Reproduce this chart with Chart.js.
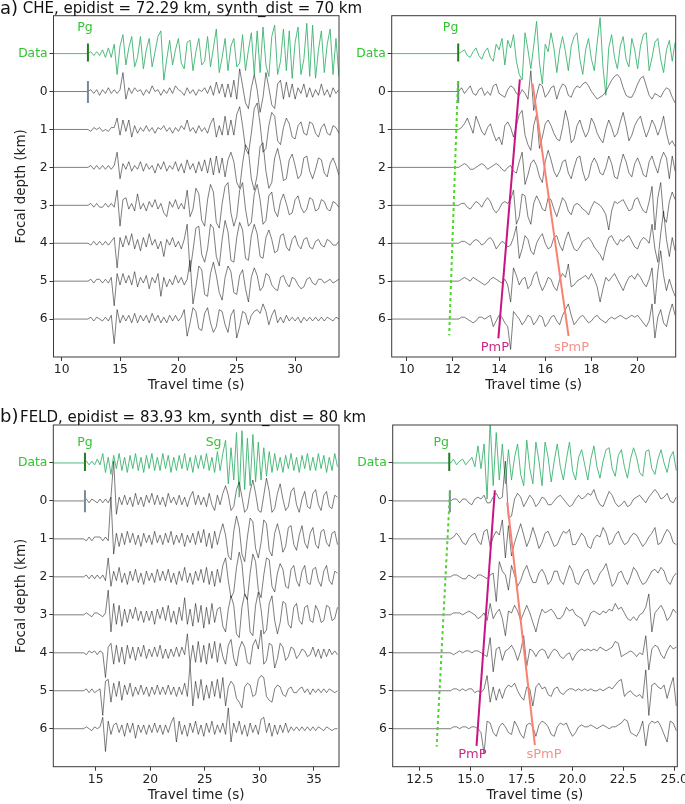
<!DOCTYPE html>
<html>
<head>
<meta charset="utf-8">
<script src="https://cdn.jsdelivr.net/npm/chart.js@4.4.1/dist/chart.umd.min.js"></script>
<style>
  body { margin: 0; background: #fff; width: 685px; height: 804px; position: relative; overflow: hidden; font-family: 'DejaVu Sans', sans-serif; }
  canvas { position: absolute; }
  .ttl { position: absolute; white-space: nowrap; color: #111; }
</style>
</head>
<body>
<canvas id="aL" width="345" height="400" style="left:0;top:0"></canvas>
<canvas id="aR" width="340" height="400" style="left:345px;top:0"></canvas>
<canvas id="bL" width="345" height="404" style="left:0;top:400px"></canvas>
<canvas id="bR" width="340" height="404" style="left:345px;top:400px"></canvas>
<div class="ttl" style="left:0;top:-2.5px;font-size:18px;line-height:20px">a)</div>
<div class="ttl" style="left:22.7px;top:-0.9px;font-size:15px;line-height:18px">CHE, epidist = 72.29 km, synth_dist = 70 km</div>
<div class="ttl" style="left:0;top:405.5px;font-size:18px;line-height:20px">b)</div>
<div class="ttl" style="left:20px;top:407.5px;font-size:15px;line-height:18px">FELD, epidist = 83.93 km, synth_dist = 80 km</div>
<script>
// trace rows: Data on top, then synthetic focal depths 0..6 km
const depthLabels = ['Data', '0', '1', '2', '3', '4', '5', '6'];
const tracePos = [-1, 0, 1, 2, 3, 4, 5, 6];
const ampScale = 0.05; // one amplitude count = 1/20 of the row spacing

// ---- panel a) left: CHE, full window ----
const aL_range = [9.3, 33.76];
const aL_ticks = [10, 15, 20, 25, 30];
const aL_start = 12.25, aL_step = 0.25;
const aL_pick = 12.25;
const aL_data = [0,1,-1,1,-1,2,-2,3,-2,5, -11,4,10,-6,3,9,-7,-2,9,-8, 2,8,-7,1,9,12,-14,-3,7,-6, 2,8,-5,-8,6,7,-9,1,8,-6, -4,9,-7,3,13,-10,-2,8,-9,4, 8,-7,-5,10,-9,2,11,-11,12,-10, 14,-6,-12,9,15,-11,-4,13,-9,12, -13,6,14,-11,-3,16,-12,15,-13,2, 12,-10,5,13,-11,8,-12];
const aL_d0 = [0,1,-1,1,-2,1,-1,2,-1,1, -1,1,10,-4,2,-1,2,0,1,-2, 1,-1,3,0,1,-2,1,-1,2,-1, 3,1,0,-2,2,-1,1,-2,1,0, 2,-1,3,-2,5,-1,4,-3,4,-3, 6,-4,12,3,-6,-9,2,9,1,-11, -3,10,2,-7,-9,4,6,-4,5,-3, 4,-4,2,-1,4,-3,2,-3,1,-2, 4,-2,1,-3,2,-1,1];
const aL_d1 = [0,-1,1,0,1,-1,0,-1,1,1, 6,-3,5,-1,5,-4,2,-2,1,-1, 2,-1,1,-2,1,0,2,-1,1,-2, 1,-1,2,0,5,-1,1,-2,2,-1, 1,-2,3,6,-4,2,-3,7,-3,5, -3,8,12,2,-10,-13,-2,11,14,3, -12,-10,2,9,7,-6,-8,1,6,3, -4,-5,2,4,-2,-3,4,3,-2,-4, 1,3,-2,-3,2,1,-2];
const aL_d2 = [0,1,-1,1,-1,1,-1,1,-1,1, 8,-6,2,-1,3,-2,1,-1,3,-2, 2,-1,1,-3,2,-1,3,-2,1,-1, 3,-2,2,-3,4,-1,2,-3,3,-2, 4,-3,5,-4,6,-3,5,-5,4,8, 3,-8,-11,2,12,9,-6,-12,-4,11, 13,-2,-11,-8,5,10,3,-7,-6,4, 7,1,-6,-4,5,6,-2,-6,-1,5, 4,-3,-5,2,5,1,-4];
const aL_d3 = [0,1,-1,1,-1,-1,1,-1,1,-1, 8,-11,3,4,-2,1,-3,6,-2,1, -3,2,-1,3,-2,1,-4,-6,2,-1, 3,-2,1,-2,8,-6,-2,9,6,-8, -11,3,11,7,-9,-12,1,10,12,-4, -11,-6,8,12,-2,-11,-9,6,11,3, -10,-8,5,7,-3,-6,2,6,1,-5, -4,3,5,-1,-4,-2,4,3,-3,-2, 3,2,-2,-3,2,1,-1];
const aL_d4 = [0,-1,1,-1,1,-1,1,-1,1,3, -13,3,-2,4,-1,5,-3,2,-4,3, -2,5,-1,2,-3,1,-7,2,-1,3, -2,1,-3,2,10,-15,-4,8,9,-6, -10,-3,10,8,-7,-12,2,12,6,-9, -10,3,11,7,-8,-9,4,10,5,-7, -8,3,7,2,-5,-4,4,5,-2,-4, 2,4,-1,-3,2,3,-2,-3,1,2, -1,-2,2,1,-1,-1,1];
const aL_d5 = [0,1,-1,1,1,-1,1,-1,2,-13, 4,-2,4,-1,3,-2,5,-3,2,-1, 3,-4,2,-1,4,-8,2,-3,1,-2, 3,-1,2,-2,1,11,-12,-3,8,6, -7,-8,4,10,3,-6,-10,2,8,5, -6,-7,3,6,-4,-11,2,7,3,-5, -3,4,3,-2,-4,-5,2,3,-1,-3, 2,1,-2,-4,-3,1,2,-1,-2,1, 1,-1,0,1,-1,0,1];
const aL_d6 = [0,1,-1,1,0,-1,1,-1,2,-13, 5,-2,2,-1,2,-2,3,-2,2,-1, 2,-2,3,-1,2,-2,1,-2,2,-1, 2,-1,1,5,-9,-2,6,4,-5,-6, 3,6,-2,-7,-4,5,4,-3,-7,2, 5,-10,-4,4,3,-3,2,4,5,3, 8,4,-3,2,5,-2,1,-2,2,-1, 1,-1,1,-2,1,-1,1,-1,1,-1, 1,-1,1,0,-1,1,0];

// ---- panel a) right: CHE, zoom on the P window ----
const aR_range = [9.35, 21.65];
const aR_ticks = [10, 12, 14, 16, 18, 20];
const aR_start = 12.25, aR_step = 0.125;
const aR_pick = 12.23;
const aR_data = [0,1,2,-1,-2,1,3,-1,-3,1, 3,-2,-4,5,2,8,-6,7,3,10, -4,-11,-14,11,2,-8,4,17,-5,-16, 5,1,11,3,-10,2,9,1,-9,4, 9,11,-3,-11,2,8,-3,-9,6,19, -7,-22,3,10,-2,-8,4,9,-3,-7, 8,2,-8,4,10,11,-9,-2,6,8, -3,-10,2,7,-4,6];
const aR_d0 = [0,2,-1,1,3,-1,-2,1,2,-2, 0,-2,3,4,-1,-2,-3,1,3,2, -1,-2,1,-1,-4,11,-10,-2,4,3, -3,-1,2,3,-4,1,4,3,-2,-3, 1,3,2,4,5,3,0,-2,-4,-3, -2,0,3,6,8,9,7,2,-2,-3, -3,0,4,7,8,3,-2,-4,-1,-2, -3,0,2,1,-3,-6];
const aR_d1 = [0,1,3,6,2,-2,7,3,-1,-3, 1,3,-2,-6,-4,-8,2,4,1,-4, 2,8,10,-3,-8,-11,2,8,-10,-4, 3,5,2,-2,-5,-6,1,10,4,-7, -5,2,5,0,-4,-1,6,3,-2,-5, -7,0,5,1,-4,-2,4,9,2,-6, -3,2,5,7,1,-4,0,5,2,-3, 1,7,-2,-8,-6,-9];
const aR_d2 = [0,1,2,1,-1,-1,0,1,2,1, -1,0,1,2,1,-1,-2,0,1,-2, -3,3,8,-9,-4,2,4,1,-5,-8, 3,9,4,-2,-5,-2,3,4,-3,-6, 0,5,6,-2,-7,-5,2,5,2,-3, -4,0,6,2,-5,-6,1,7,3,-3, -5,2,5,1,-4,-5,3,6,1,-3, 4,8,5,-6,6,-2];
const aR_d3 = [0,1,1,-1,-2,0,2,1,-1,2, 4,2,-2,-4,-2,1,2,1,3,8, -10,-6,6,5,-6,-10,1,5,2,-2, -3,4,3,-2,-6,-1,4,2,-3,-5, 0,1,0,-2,-3,-5,-1,2,1,0, -2,-5,-13,-3,2,1,2,3,0,-3, -2,3,4,0,-3,-4,2,10,-13,4, 12,-6,-9,2,7,3];
const aR_d4 = [0,1,1,0,-1,1,2,1,-1,0, 2,3,1,-3,-1,1,0,-2,-1,3, 9,-8,-3,4,2,-4,-6,0,3,5, 0,-3,-2,3,4,-1,-4,2,6,1, -3,-4,-2,1,2,3,1,-2,-4,-6, -9,-2,3,4,1,-1,2,1,3,4, 1,-2,-3,1,3,2,0,10,-3,-10, 5,17,2,-7,3,-4];
const aR_d5 = [0,1,2,1,0,2,1,0,-1,-2, -1,1,2,1,0,-1,1,-2,-11,7, 3,-2,1,2,-4,-2,3,5,-1,-5, -2,2,1,-3,-5,1,4,2,9,-3, -2,0,1,2,3,1,4,1,-3,-11, -4,2,0,2,4,1,-2,-5,-1,2, 3,1,4,2,-1,-3,1,7,-12,5, 16,3,-5,1,-4,-8];
const aR_d6 = [0,1,1,0,-1,-2,-1,1,1,0, 1,2,-4,-1,2,1,-2,-4,-16,4, 2,0,-3,-1,2,1,-3,-1,2,1, -4,-2,1,2,-1,-3,2,5,8,2, -3,-1,1,2,0,-2,-1,1,2,0, -1,-2,0,1,0,1,2,1,0,1, 2,1,2,0,-2,-4,-1,8,-10,1, 5,-2,-4,3,8,2];
const aR_pg = [[12.22, -0.25], [11.84, 6.43]];
const aR_pmp = [[14.9, -0.32], [13.97, 6.51]];
const aR_spmp = [[15.45, -0.21], [17.01, 6.45]];

// ---- panel b) left: FELD, full window ----
const bL_range = [11.12, 37.29];
const bL_ticks = [15, 20, 25, 30, 35];
const bL_start = 13.9, bL_step = 0.25;
const bL_pick = 14.02;
const bL_data = [0,1,-1,1,-1,2,-1,5,-5,3, -6,4,-3,5,-4,3,-5,4,-3,5, -4,3,-5,4,-3,5,-4,3,-4,5, -3,4,-5,3,-4,4,-3,5,-4,3, -5,4,-3,4,-3,5,-4,3,-5,6, -4,5,12,-11,8,-9,16,-18,17,-14, 13,-12,15,-10,11,-9,8,-7,6,-5, 5,-4,3,-5,4,-3,5,-4,3,-5, 4,-3,5,-4,3,-4,5,-3,4,-5, 3,-4,5,-2];
const bL_d0 = [0,1,-1,1,0,-1,1,-1,1,-1, 2,21,-7,2,-2,3,-2,2,-3,4, -2,2,-3,3,-1,4,-2,3,-2,2, -3,4,-1,2,-2,3,-2,2,-3,2, 5,-2,3,-2,2,-3,4,-2,-5,3, -2,4,8,3,-5,-3,6,10,2,-6, -4,5,11,4,-5,-6,3,12,5,-6, -4,4,9,1,-5,-3,5,7,-2,-6, 1,5,-3,-4,4,6,-2,-5,3,5, -3,-4,3,2];
const bL_d1 = [0,-1,1,-1,1,1,1,-1,1,-1, 22,-8,3,-4,3,-3,4,-2,3,-3, 2,-4,3,-2,2,-3,4,-2,2,-3, 3,-2,4,-3,2,-2,3,-4,2,-2, 3,-3,4,-2,5,-4,3,-5,4,-3, 3,8,2,-9,-11,4,12,6,-8,-12, 1,11,9,-5,-10,-2,10,8,-6,-9, 3,8,2,-7,-4,6,7,-3,-6,2, 7,-2,-5,3,6,-3,-5,4,5,-2, -4,3,4,-3];
const bL_d2 = [0,1,-1,1,-1,1,-1,1,-2,10, -5,3,-2,5,-3,2,-4,3,-2,4, -3,2,-4,3,-2,2,-3,4,-2,3, -2,4,-3,2,-4,3,-2,5,-3,2, -4,3,-2,4,-3,5,-4,3,-5,4, -3,6,10,-2,-11,-8,5,13,7,-9, -12,2,12,8,-7,-11,1,10,9,-5, -8,2,7,4,-5,-6,4,6,-2,-5, 3,6,-3,-4,4,5,-2,-5,3,6, -2,-4,3,2];
const bL_d3 = [0,1,0,-1,1,1,0,-1,1,13, -9,6,-5,5,-6,3,-4,3,-2,4, -3,2,-4,2,-3,2,-5,3,-2,4, -3,5,-4,2,-5,4,-3,9,-5,3, -6,6,-4,5,-7,4,-5,6,-4,3, 4,-6,-9,3,10,5,-10,-12,4,11, 8,-9,-11,5,12,3,-10,-8,6,10, -3,-10,-4,7,6,-5,-7,4,6,-3, -5,4,5,-3,-4,5,2,-4,-3,5, 4,-3,-2,4];
const bL_d4 = [0,-1,1,0,1,-1,1,0,-13,3, 5,-6,4,-5,3,-6,4,-3,3,-4, 3,-2,4,-3,2,-2,3,-2,4,-3, 2,-3,2,-2,3,-2,3,-1,10,-6, 4,-5,6,-5,4,-6,5,-3,6,-5, 5,-2,-6,4,7,-3,-7,2,6,3, -5,-6,4,7,2,12,-6,-4,5,4, -8,-3,5,3,-4,-2,3,2,-3,-1, 2,1,-2,-1,3,-2,2,-3,2,-2, 2,-1,1,-1];
const bL_d5 = [0,1,-1,1,-1,0,1,-13,5,6, -6,4,-3,5,-5,3,-2,4,-3,2, -2,3,-2,2,-3,2,-2,3,-2,2, -2,3,-2,2,-3,2,-2,4,-3,14, -8,5,-4,6,-5,3,-4,5,-3,6, -4,7,-8,2,5,3,-4,-6,-9,2, 4,3,-3,-2,6,8,7,-3,-5,-6, 1,3,2,-2,-3,1,2,-1,-1,1, 2,-1,1,-2,1,-1,1,-1,1,-1, 1,0,-1,0];
const bL_d6 = [0,1,0,-1,1,0,1,6,-12,4, -3,2,3,-2,2,-4,3,-2,3,-5, 2,-2,2,-3,2,-2,3,-2,2,-3, 2,-2,3,6,-7,4,-3,2,-4,3, -2,4,-3,2,-4,3,-2,4,-3,2, -2,3,-3,11,-7,3,-2,4,-3,2, -4,3,-2,2,-3,5,6,-2,3,-4, 2,-3,2,-2,3,-2,1,-1,1,-1, 1,-1,1,-1,1,-1,1,0,-1,1, 0,-1,0,0];

// ---- panel b) right: FELD, zoom on the P window ----
const bR_range = [11.16, 25.15];
const bR_ticks = [12.5, 15, 17.5, 20, 22.5, 25];
const bR_start = 14.0, bR_step = 0.15;
const bR_pick = 13.94, bR_pick0 = 13.97;
const bR_data = [0,2,-1,1,2,-1,1,3,-2,9, -3,10,-19,22,-12,16,-9,10,-11,7, -9,3,10,-6,-12,12,-3,-11,11,1, -12,11,3,-10,1,10,-2,-9,2,11, -4,-9,3,7,-1,-9,2,9,-2,-8, 1,7,8,-3,-7,4,7,-2,-8,2, 8,3,-5,-7,6,7,-3,-6,2,7, 0,-5,3,6,-4];
const bR_d0 = [0,1,1,-1,1,1,-1,-2,1,2, 1,3,-1,-1,2,4,1,2,21,-9, -8,1,4,2,-3,0,3,1,-3,-1, 2,1,-2,-2,0,2,3,1,-1,-3, -2,1,3,1,2,4,3,6,1,-2, -3,1,5,3,-1,-3,-2,0,-3,-2, 1,2,3,1,-1,2,4,6,4,1, 2,4,0,-1,2];
const bR_d1 = [0,1,3,1,-2,-3,0,2,3,-1, -3,4,5,-4,1,4,2,10,-10,7, -9,-2,3,8,2,-4,0,6,1,-5, -2,3,4,0,-4,-3,1,4,3,5, -3,-3,0,3,1,-4,-5,0,2,1, 6,3,-3,-2,2,4,0,-3,-2,1, 3,2,-1,-4,-2,1,3,6,-3,-2, 2,5,3,-2,-3];
const bR_d2 = [0,1,1,0,-1,-1,1,0,-1,1, 1,0,-1,1,2,-13,8,3,1,-7, 6,1,-5,-2,3,6,1,-3,-3,2, 4,1,-4,-2,3,3,-2,-4,1,6, 3,-3,-4,0,3,4,-1,-4,-2,2, 4,7,1,-5,-3,2,3,-1,-4,0, 5,3,-1,-4,-3,0,3,4,2,5, 3,-2,-4,0,2];
const bR_d3 = [0,1,1,1,0,1,2,1,0,-2, -1,1,-3,6,-2,1,3,-2,-11,2, 1,5,2,-3,1,5,1,-4,-9,-2, 3,1,2,3,1,-2,-2,0,4,2, 3,0,-1,-2,-6,-3,1,2,1,0, 2,1,3,2,6,3,4,1,-2,-3, -1,-3,0,1,4,11,-9,1,3,5, 2,-3,-1,3,1];
const bR_d4 = [0,-1,0,1,0,1,1,0,1,1, 0,-1,-2,8,-10,2,3,-4,1,2, 4,1,-4,1,9,-7,2,1,-2,1, 2,1,-3,0,2,1,-2,-3,-1,0, -4,-1,1,2,1,2,1,2,1,3, 2,1,2,3,6,5,-2,-1,0,1, 0,-2,0,-1,9,-9,2,4,3,-1, -3,1,4,2,3];
const bR_d5 = [0,1,1,0,1,0,1,1,-1,0, -1,1,8,-6,2,-5,1,-4,1,3, 2,4,0,-3,-5,2,1,-8,2,4, 1,2,-2,-3,1,2,-1,-2,0,1, 1,0,1,0,1,0,1,0,0,1, 0,1,2,1,3,5,6,-3,-1,0, -2,-3,-2,-4,11,-13,3,4,2,1, 3,-4,2,7,-8];
const bR_d6 = [0,1,1,0,1,1,0,1,1,0, -2,-13,4,3,-2,-4,1,3,1,-2, -3,4,1,-3,-5,2,3,1,-4,2, 4,3,1,-3,-4,1,3,2,3,-1, -4,-2,1,2,1,1,2,1,0,1, 2,1,0,1,1,2,3,5,4,-2, -3,-4,-1,4,-9,2,4,3,4,1, -3,-7,4,3,-1];
const bR_pg = [[13.97, -0.2], [13.32, 6.47]];
const bR_pmp = [[16.18, -0.28], [15.28, 6.45]];
const bR_spmp = [[16.79, 0.04], [18.15, 6.43]];

const GREEN_TXT = '#33c433';
const DATA_COL = '#3cb371';
const SYN_COL = 'rgba(25,25,25,0.75)';
const AXIS_COL = '#3a3a3a';

Chart.defaults.font.family = "'DejaVu Sans', sans-serif";

function tracePoints(pos, xmin, t0, dt, amps) {
  const pts = [{x: xmin, y: pos}];
  amps.forEach((a, i) => pts.push({x: t0 + i * dt, y: pos - a * ampScale}));
  return pts;
}
function seg(p) { return p.map(q => ({x: q[0], y: q[1]})); }
function lineDs(data, color, width, dash) {
  return {data, borderColor: color, borderWidth: width, borderDash: dash || [], pointRadius: 0, tension: 0, fill: false};
}

// box around the axes plus the phase labels
const framePlugin = {
  id: 'frame',
  afterDraw(chart, args, opts) {
    const {ctx, chartArea: a, scales: {x, y}} = chart;
    ctx.save();
    ctx.strokeStyle = AXIS_COL;
    ctx.lineWidth = 1;
    ctx.strokeRect(a.left, a.top, a.right - a.left, a.bottom - a.top);
    (opts.labels || []).forEach(l => {
      ctx.fillStyle = l.color;
      ctx.font = l.size + "px 'DejaVu Sans'";
      ctx.textAlign = 'center';
      ctx.textBaseline = 'alphabetic';
      ctx.fillText(l.text, x.getPixelForValue(l.t), y.getPixelForValue(l.p));
    });
    ctx.restore();
  }
};

function makePanel(id, p) {
  const ds = [];
  (p.overlays || []).forEach(o => ds.push(o));
  // pick markers
  ds.push(lineDs(seg([[p.pick0, -0.28], [p.pick0, 0.3]]), '#778899', 2));
  ds.push(lineDs(seg([[p.pick, -1.27], [p.pick, -0.79]]), '#237a23', 2));
  for (let k = 7; k >= 1; k--) {
    ds.push(lineDs(tracePoints(tracePos[k], p.range[0], p.start, p.step, p.traces[k]), SYN_COL, 0.75));
  }
  ds.push(lineDs(tracePoints(-1, p.range[0], p.start, p.step, p.traces[0]), DATA_COL, 0.9));

  new Chart(document.getElementById(id), {
    type: 'line',
    data: {datasets: ds},
    options: {
      responsive: false,
      animation: false,
      events: [],
      layout: {padding: {left: 0, top: p.top, right: p.right, bottom: 0}},
      plugins: {legend: {display: false}, tooltip: {enabled: false}, frame: {labels: p.labels}},
      scales: {
        x: {
          type: 'linear', min: p.range[0], max: p.range[1],
          afterBuildTicks: s => { s.ticks = p.ticks.map(v => ({value: v})); },
          afterFit: s => { s.height = p.xh; s.paddingLeft = 0; s.paddingRight = 0; },
          ticks: {font: {size: 12.3}, color: '#222', padding: 1.5, maxRotation: 0, autoSkip: false,
                  callback: v => p.fmt ? v.toFixed(1) : String(v)},
          grid: {display: true, drawOnChartArea: false, drawTicks: true, tickLength: 4, color: AXIS_COL},
          border: {display: false},
          title: {display: true, text: 'Travel time (s)', font: {size: 13.5}, color: '#222', padding: {top: 0, bottom: p.xtp}}
        },
        y: {
          type: 'linear', min: -2, max: 7, reverse: true,
          afterBuildTicks: s => { s.ticks = tracePos.map(v => ({value: v})); },
          afterFit: s => { s.width = p.yw; s.paddingTop = 0; s.paddingBottom = 0; },
          ticks: {font: {size: 12.3}, padding: 2, autoSkip: false,
                  color: c => c.index === 0 ? GREEN_TXT : '#222',
                  callback: (v, i) => depthLabels[i]},
          grid: {display: true, drawOnChartArea: false, drawTicks: true, tickLength: 4, color: AXIS_COL},
          border: {display: false},
          title: {display: !!p.yTitle, text: 'Focal depth (km)', font: {size: 13.5}, color: '#222', padding: {top: 12.9, bottom: 0}}
        }
      }
    },
    plugins: [framePlugin]
  });
}

function phaseOverlays(pg, pmp, spmp) {
  return [
    lineDs(seg(pmp), '#c71585', 2),
    lineDs(seg(spmp), '#fa8072', 2),
    lineDs(seg(pg), '#4cd62a', 2, [3, 3])
  ];
}

makePanel('aL', {
  range: aL_range, ticks: aL_ticks, start: aL_start, step: aL_step, pick: aL_pick, pick0: aL_pick,
  traces: [aL_data, aL_d0, aL_d1, aL_d2, aL_d3, aL_d4, aL_d5, aL_d6],
  top: 15.7, right: 6, yw: 53.5, xh: 43, xtp: 6, yTitle: true,
  labels: [{text: 'Pg', t: 12.0, p: -1.6, color: GREEN_TXT, size: 12.5}]
});
makePanel('aR', {
  range: aR_range, ticks: aR_ticks, start: aR_start, step: aR_step, pick: aR_pick, pick0: aR_pick,
  traces: [aR_data, aR_d0, aR_d1, aR_d2, aR_d3, aR_d4, aR_d5, aR_d6],
  top: 15.7, right: 9.3, yw: 46.7, xh: 43, xtp: 6,
  overlays: phaseOverlays(aR_pg, aR_pmp, aR_spmp),
  labels: [{text: 'Pg', t: 11.9, p: -1.6, color: GREEN_TXT, size: 12.5},
           {text: 'PmP', t: 13.82, p: 6.84, color: '#cc2a88', size: 13},
           {text: 'sPmP', t: 17.14, p: 6.84, color: '#f7918a', size: 13}]
});
makePanel('bL', {
  range: bL_range, ticks: bL_ticks, start: bL_start, step: bL_step, pick: bL_pick, pick0: bL_pick,
  traces: [bL_data, bL_d0, bL_d1, bL_d2, bL_d3, bL_d4, bL_d5, bL_d6],
  top: 25, right: 6, yw: 53.3, xh: 37.3, xtp: 0, yTitle: true,
  labels: [{text: 'Pg', t: 14.02, p: -1.44, color: GREEN_TXT, size: 12.5},
           {text: 'Sg', t: 25.8, p: -1.44, color: GREEN_TXT, size: 12.5}]
});
makePanel('bR', {
  range: bR_range, ticks: bR_ticks, start: bR_start, step: bR_step, pick: bR_pick, pick0: bR_pick0,
  traces: [bR_data, bR_d0, bR_d1, bR_d2, bR_d3, bR_d4, bR_d5, bR_d6],
  top: 25, right: 7.7, yw: 47.7, xh: 37.3, xtp: 0, fmt: true,
  overlays: phaseOverlays(bR_pg, bR_pmp, bR_spmp),
  labels: [{text: 'Pg', t: 13.55, p: -1.44, color: GREEN_TXT, size: 12.5},
           {text: 'PmP', t: 15.08, p: 6.78, color: '#cc2a88', size: 13},
           {text: 'sPmP', t: 18.6, p: 6.78, color: '#f7918a', size: 13}]
});
</script>
</body>
</html>
